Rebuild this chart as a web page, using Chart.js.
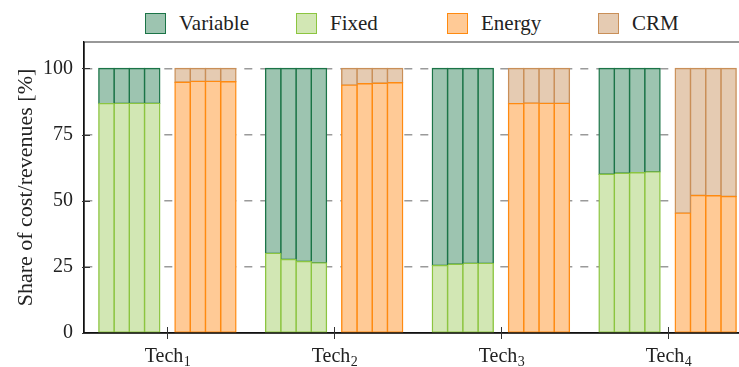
<!DOCTYPE html>
<html>
<head>
<meta charset="utf-8">
<script src="https://cdn.jsdelivr.net/npm/chart.js@4"></script>
<style>
  html, body { margin: 0; padding: 0; background: #fff; }
  body { width: 739px; height: 367px; overflow: hidden; position: relative; }
  .wrap { position: absolute; left: 0; top: 0; width: 760px; height: 367px; }
  .legend { position: absolute; left: 145px; top: 13px; display: flex; font-family: "Liberation Serif", serif; font-size: 21px; color: #222; }
  .legend .item { width: 151px; display: flex; align-items: center; height: 21px; }
  .legend .box { width: 19px; height: 19px; border: 1.5px solid; margin-right: 13px; }
</style>
</head>
<body>
<div class="legend" id="legend"></div>
<div class="wrap"><canvas id="shareChart"></canvas></div>
<script>
var categories = ['Tech1', 'Tech2', 'Tech3', 'Tech4'];
var yTicks = [0, 25, 50, 75, 100];

// one row per tech, one value per bar (4 bars each)
var fixedShare = [
  [86.7, 86.8, 86.8, 86.8],
  [30.1, 27.8, 27.0, 26.5],
  [25.5, 26.0, 26.3, 26.3],
  [60.0, 60.4, 60.6, 60.9]
];
var variableShare = [
  [13.3, 13.2, 13.2, 13.2],
  [69.9, 72.2, 73.0, 73.5],
  [74.5, 74.0, 73.7, 73.7],
  [40.0, 39.6, 39.4, 39.1]
];
var energyShare = [
  [94.8, 95.1, 95.1, 95.0],
  [93.7, 94.2, 94.4, 94.6],
  [86.7, 86.9, 86.8, 86.8],
  [45.3, 52.0, 51.9, 51.6]
];
var crmShare = [
  [5.2, 4.9, 4.9, 5.0],
  [6.3, 5.8, 5.6, 5.4],
  [13.3, 13.1, 13.2, 13.2],
  [54.7, 48.0, 48.1, 48.4]
];

var series = {
  Variable: { fill: '#9dc4b0', line: '#1b7447' },
  Fixed: { fill: '#d2e7b4', line: '#8cc540' },
  Energy: { fill: '#ffca96', line: '#ff8a10' },
  CRM: { fill: '#e5cbb2', line: '#c98f58' }
};
var textColor = '#222';
var fontFamily = '"Liberation Serif", serif';

function column(rows, j) {
  return rows.map(function (r) { return r[j]; });
}

function barSet(name, rows, j, stack) {
  return {
    label: name,
    data: column(rows, j),
    stack: stack,
    backgroundColor: series[name].fill,
    borderColor: series[name].line,
    borderWidth: 1.4,
    borderSkipped: false,
    // neighbours overlap by half a border so shared edges read as one line
    inflateAmount: 0.7
  };
}

var datasets = [];
for (var j = 0; j < 4; j++) {
  datasets.push(barSet('Fixed', fixedShare, j, 'c' + j));
  datasets.push(barSet('Variable', variableShare, j, 'c' + j));
}
// empty slot between cost and revenue bars
datasets.push({ label: 'gap', data: [null, null, null, null], stack: 'gap' });
for (var k = 0; k < 4; k++) {
  datasets.push(barSet('Energy', energyShare, k, 'r' + k));
  datasets.push(barSet('CRM', crmShare, k, 'r' + k));
}

// html legend
var legendEl = document.getElementById('legend');
['Variable', 'Fixed', 'Energy', 'CRM'].forEach(function (name) {
  var item = document.createElement('div');
  item.className = 'item';
  var box = document.createElement('span');
  box.className = 'box';
  box.style.background = series[name].fill;
  box.style.borderColor = series[name].line;
  var txt = document.createElement('span');
  txt.textContent = name;
  item.appendChild(box);
  item.appendChild(txt);
  legendEl.appendChild(item);
});

var axisDecor = {
  id: 'axisDecor',
  afterDraw: function (chart) {
    var ctx = chart.ctx;
    var area = chart.chartArea;
    var x = chart.scales.x;
    var y = chart.scales.y;
    ctx.save();

    // frame: top line, and redraw left/bottom axes over the bars
    ctx.strokeStyle = '#333';
    ctx.lineWidth = 1.2;
    ctx.beginPath();
    ctx.moveTo(area.left, area.top);
    ctx.lineTo(area.right, area.top);
    ctx.stroke();
    ctx.strokeStyle = '#111';
    ctx.lineWidth = 1.3;
    ctx.beginPath();
    ctx.moveTo(area.left, area.top);
    ctx.lineTo(area.left, area.bottom);
    ctx.lineTo(area.right, area.bottom);
    ctx.stroke();

    // y tick marks
    ctx.strokeStyle = '#333';
    ctx.lineWidth = 1;
    yTicks.forEach(function (v) {
      var py = Math.round(y.getPixelForValue(v)) + 0.5;
      ctx.beginPath();
      ctx.moveTo(area.left - 2, py);
      ctx.lineTo(area.left + 6, py);
      ctx.stroke();
    });

    // x tick marks and labels with subscripts
    ctx.fillStyle = textColor;
    ctx.textBaseline = 'alphabetic';
    categories.forEach(function (c, i) {
      var px = Math.round(x.getPixelForValue(i)) + 0.5;
      ctx.beginPath();
      ctx.moveTo(px, area.bottom - 6);
      ctx.lineTo(px, area.bottom + 6);
      ctx.stroke();

      var main = c.replace(/\d+$/, '');
      var sub = c.slice(main.length);
      ctx.font = '20px ' + fontFamily;
      var w1 = ctx.measureText(main).width;
      ctx.font = '14px ' + fontFamily;
      var w2 = ctx.measureText(sub).width;
      var start = px - (w1 + w2) / 2;
      ctx.textAlign = 'left';
      ctx.font = '20px ' + fontFamily;
      ctx.fillText(main, start, 362);
      ctx.font = '14px ' + fontFamily;
      ctx.fillText(sub, start + w1 + 0.5, 366);
    });

    // y title
    ctx.translate(32, (area.top + area.bottom) / 2);
    ctx.rotate(-Math.PI / 2);
    ctx.textAlign = 'center';
    ctx.font = '22px ' + fontFamily;
    ctx.fillText('Share of cost/revenues [%]', 0, 0);
    ctx.restore();
  }
};

new Chart(document.getElementById('shareChart'), {
  type: 'bar',
  data: { labels: categories, datasets: datasets },
  options: {
    responsive: true,
    maintainAspectRatio: false,
    animation: false,
    events: [],
    layout: { padding: { top: 42, right: 9, left: 0, bottom: 0 } },
    datasets: { bar: { categoryPercentage: 0.822, barPercentage: 1 } },
    plugins: { legend: { display: false }, tooltip: { enabled: false } },
    scales: {
      x: {
        stacked: true,
        grid: { display: false },
        border: { color: '#111', width: 1.3 },
        ticks: { display: false },
        afterFit: function (scale) { scale.height = 34; }
      },
      y: {
        stacked: true,
        min: 0,
        max: 110,
        afterBuildTicks: function (scale) {
          scale.ticks = yTicks.map(function (v) { return { value: v }; });
        },
        afterFit: function (scale) { scale.width = 84; },
        border: { color: '#111', width: 1.3, dash: [8, 8] },
        grid: {
          drawTicks: false,
          color: function (c) { return c.tick && c.tick.value > 0 ? '#9a9a9a' : 'rgba(0,0,0,0)'; },
          lineWidth: 1.5
        },
        ticks: {
          padding: 11,
          color: textColor,
          font: { family: fontFamily, size: 20 }
        }
      }
    }
  },
  plugins: [axisDecor]
});
</script>
</body>
</html>
